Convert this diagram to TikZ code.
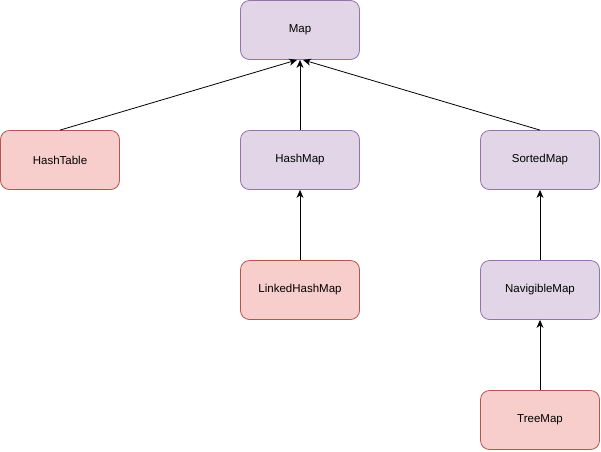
\documentclass[tikz,border=0pt]{standalone}
\usepackage{fontspec}
\setmainfont{Liberation Sans}
\usetikzlibrary{arrows.meta}

\definecolor{purplefill}{HTML}{E1D5E7}
\definecolor{purpleline}{HTML}{9673A6}
\definecolor{redfill}{HTML}{F8CECC}
\definecolor{redline}{HTML}{B85450}

\begin{document}
\begin{tikzpicture}[x=1pt, y=-1pt,
        every node/.style={font=\fontsize{11.5}{13}\selectfont},
        box/.style={draw, rounded corners=9pt, line width=0.8pt,
            minimum width=119pt, minimum height=59pt, inner sep=0pt},
        iface/.style={box, fill=purplefill, draw=purpleline},
        impl/.style={box, fill=redfill, draw=redline},
        arr/.style={-{Stealth[length=8pt, width=7pt, inset=2.5pt]}, line width=0.8pt}]
        \useasboundingbox (0,0) rectangle (601,451);

        % Interfaces
        \node[iface] (map) at (300,30) {Map};
        \node[iface] (hashmap) at (300,160) {HashMap};
        \node[iface] (sortedmap) at (540,160) {SortedMap};
        \node[iface] (navigiblemap) at (540,290) {NavigibleMap};

        % Classes
        \node[impl] (hashtable) at (60,160) {HashTable};
        \node[impl] (linkedhashmap) at (300,290) {LinkedHashMap};
        \node[impl] (treemap) at (540,420) {TreeMap};

        % Arrows up to Map
        \draw[arr] (hashtable.north) -- ([xshift=-3pt]map.south);
        \draw[arr] (hashmap.north) -- (map.south);
        \draw[arr] (sortedmap.north) -- ([xshift=3pt]map.south);

        % Other arrows
        \draw[arr] (linkedhashmap.north) -- (hashmap.south);
        \draw[arr] (navigiblemap.north) -- (sortedmap.south);
        \draw[arr] (treemap.north) -- (navigiblemap.south);
    \end{tikzpicture}
\end{document}
